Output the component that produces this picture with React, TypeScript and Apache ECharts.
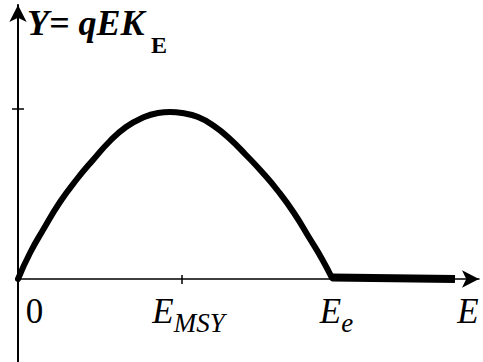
import React, { useEffect, useRef } from "react";
import * as echarts from "echarts";

// Fishing effort E and the yield Y = qEK_E
const effort = [0, 12, 25, 42, 59, 75, 92, 108, 124, 140, 152, 164, 180, 196, 212, 228, 244, 260, 276, 292, 304, 314];
const yieldValues = [0, 26, 49, 77, 100, 119, 138, 152, 161, 166, 167, 166, 162, 153, 140, 124, 107, 88, 66, 40, 20, 1];

// Beyond E_e the yield stays at zero
const tailEffort = [314, 437];
const tailYield = [1.5, 0];

// Marked levels on the axes
const E_MSY = 164;
const E_E = 314;
const E_MAX = 461;
const Y_MSY = 170;
const Y_MIN = -83;
const Y_MAX = 274;

const xTickLabels = ["0", "E|MSY", "E|e", "E"];

const SERIF = "'Liberation Serif', 'Times New Roman', serif";

const GRID_TOP = 5;
const CHART_H = 362;

export default function App() {
  const ref = useRef<HTMLDivElement>(null);

  useEffect(() => {
    if (!ref.current) return;
    const chart = echarts.init(ref.current, null, { renderer: "svg" });
    const labelValues = [0, E_MSY, E_E, E_MAX];
    // the E axis sits at Y = 0, lifted from the bottom edge of the grid
    const plotH = CHART_H - GRID_TOP;
    const zeroLift = (-Y_MIN * plotH) / (Y_MAX - Y_MIN);

    const main = { fontFamily: SERIF, fontSize: 35, lineHeight: 50, color: "#000" };
    const mainIt = { ...main, fontStyle: "italic" };

    chart.setOption({
      animation: false,
      backgroundColor: "#fff",
      title: [
        {
          text: "Y= qEK",
          left: 27,
          top: 5,
          padding: 0,
          textStyle: { fontFamily: SERIF, fontSize: 36, fontWeight: "bold", fontStyle: "italic", color: "#000" },
        },
        {
          text: "E",
          left: 151,
          top: 33,
          padding: 0,
          textStyle: { fontFamily: SERIF, fontSize: 24, fontWeight: "bold", color: "#000" },
        },
      ],
      grid: { left: 18, right: 4, top: GRID_TOP, bottom: 0, containLabel: false, outerBoundsMode: "none" },
      xAxis: {
        type: "value",
        min: 0,
        max: E_MAX,
        position: "bottom",
        offset: -zeroLift,
        axisLine: {
          onZero: false,
          symbol: ["none", "arrow"],
          symbolSize: [13, 17],
          lineStyle: { color: "#000", width: 1.5 },
        },
        axisTick: { show: true, customValues: [E_MSY], length: 5, lineStyle: { color: "#000", width: 1.5 } },
        splitLine: { show: false },
        axisLabel: {
          customValues: labelValues,
          margin: 7,
          formatter: (v: number) => {
            const i = labelValues.indexOf(v);
            const t = xTickLabels[i];
            if (i === 0) return `{zero|${t}}`;
            if (i === 1) return `{eMsy|E}{sub|${t.split("|")[1]}}`;
            if (i === 2) return `{eE|E}{sub|${t.split("|")[1]}}`;
            return `{eEnd|${t}}`;
          },
          rich: {
            zero: { ...main, padding: [0, 0, 0, 33] },
            eMsy: { ...mainIt, padding: [0, 0, 0, 13] },
            eE: { ...mainIt, padding: [0, 0, 0, 9] },
            eEnd: { ...mainIt, padding: [0, 22, 0, 0] },
            sub: { fontFamily: SERIF, fontSize: 27, lineHeight: 27, fontStyle: "italic", color: "#000", padding: [23, 0, 0, 0] },
          },
        },
      },
      yAxis: {
        type: "value",
        min: Y_MIN,
        max: Y_MAX,
        axisLine: {
          onZero: true,
          symbol: ["none", "arrow"],
          symbolSize: [13, 17],
          lineStyle: { color: "#000", width: 2 },
        },
        axisTick: { show: true, customValues: [Y_MSY], length: 6, lineStyle: { color: "#000", width: 1.5 } },
        axisLabel: { show: false },
        splitLine: { show: false },
      },
      series: [
        {
          type: "line",
          data: effort.map((e, i) => [e, yieldValues[i]]),
          smooth: 0.5,
          showSymbol: false,
          symbol: "none",
          clip: false,
          lineStyle: { color: "#000", width: 6, cap: "round", join: "round" },
          markLine: {
            silent: true,
            symbol: "none",
            label: { show: false },
            lineStyle: { color: "#000", width: 1.5, type: "solid" },
            data: [
              [{ coord: [0, Y_MSY] }, { coord: [6, Y_MSY] }],
              [{ coord: [E_MSY, 0] }, { coord: [E_MSY, 4] }],
            ],
          },
        },
        {
          type: "line",
          data: tailEffort.map((e, i) => [e, tailYield[i]]),
          showSymbol: false,
          symbol: "none",
          clip: false,
          lineStyle: { color: "#000", width: 8, cap: "butt" },
        },
      ],
    });

    return () => chart.dispose();
  }, []);

  return (
    <div
      ref={ref}
      style={{ position: "fixed", left: 0, top: 0, width: 483, height: 362, background: "#fff" }}
    />
  );
}
